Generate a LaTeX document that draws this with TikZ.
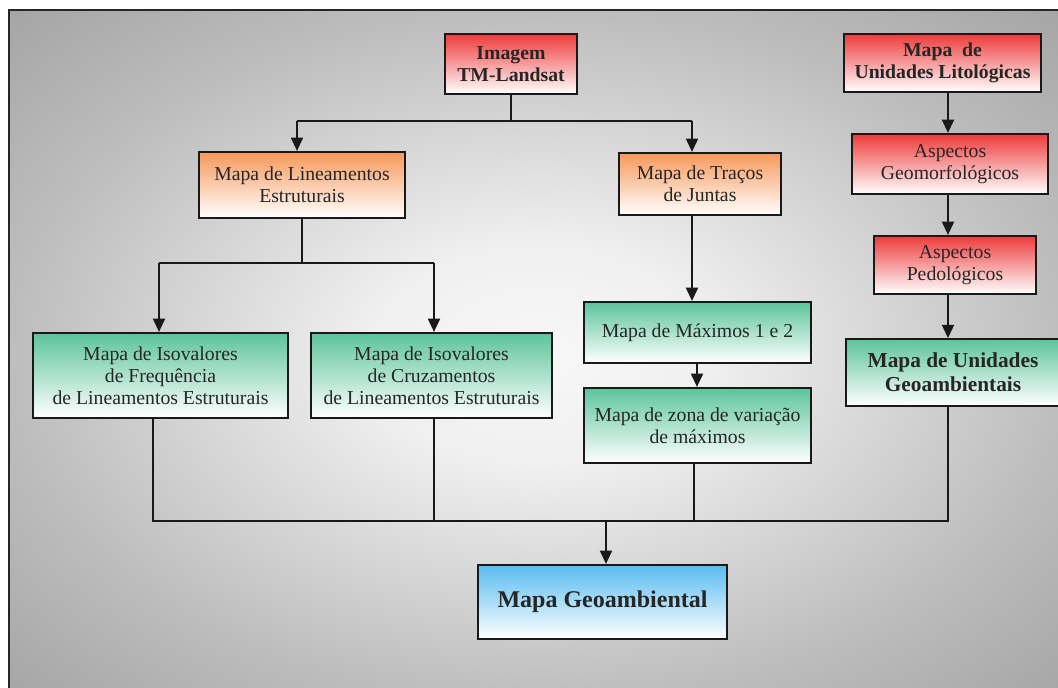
\documentclass[tikz,border=0pt]{standalone}
\usepackage{fontspec}
\setmainfont{Liberation Serif}
\usepackage{tikz}
\usetikzlibrary{arrows.meta}

\definecolor{txt}{HTML}{262626}
\definecolor{redtop}{HTML}{EE3B3B}
\definecolor{orgtop}{HTML}{F7985A}
\definecolor{grntop}{HTML}{5CC49C}
\definecolor{blutop}{HTML}{58BCF0}
\pgfdeclareradialshading{backdrop}{\pgfpoint{0bp}{0bp}}{%
  color(0bp)=(white!94!gray); color(8bp)=(white!88!gray);
  color(25bp)=(gray!52); color(36bp)=(gray!72); color(50bp)=(gray!72)}

\tikzset{
  box/.style={draw=black!90, line width=1.6pt, align=center, text=txt,
    inner sep=2pt, font=\fontsize{14.8}{16.5}\selectfont},
  redbox/.style={box, top color=redtop, bottom color=white},
  orgbox/.style={box, top color=orgtop, bottom color=white},
  grnbox/.style={box, top color=grntop, bottom color=white},
  blubox/.style={box, top color=blutop, bottom color=white},
  conn/.style={line width=1.5pt, black!90},
  arr/.style={conn, -{Triangle[length=10pt,width=9pt]}}
}

\begin{document}
\begin{tikzpicture}[x=0.75pt,y=-0.75pt]
			\useasboundingbox (0,0) rectangle (1058,688);
			% frame
			\shade[shading=backdrop] (9,10) rectangle (1068,700);
			\draw[line width=2pt, black!85] (9,700) -- (9,10) -- (1068,10);
			% left and middle columns
			\node[redbox, font=\bfseries\fontsize{14.8}{16.5}\selectfont,
				minimum width=99pt, minimum height=45pt] (imagem) at (511,64)
				{Imagem\\TM-Landsat};
			\node[orgbox, minimum width=154.5pt, minimum height=49.5pt] (lineam) at (302,185)
				{Mapa de Lineamentos\\Estruturais};
			\node[orgbox, minimum width=121.5pt, minimum height=46.5pt] (tracos) at (700,184)
				{Mapa de Traços\\de Juntas};
			\node[grnbox, minimum width=191.25pt, minimum height=63.75pt] (freq) at (160.5,375.5)
				{Mapa de Isovalores\\de Frequência\\de Lineamentos Estruturais};
			\node[grnbox, minimum width=180.75pt, minimum height=63.75pt] (cruz) at (431.5,375.5)
				{Mapa de Isovalores\\de Cruzamentos\\de Lineamentos Estruturais};
			\node[grnbox, minimum width=170.25pt, minimum height=45.75pt] (maximos) at (697.5,332.5)
				{Mapa de Máximos 1 e 2};
			\node[grnbox, minimum width=170.25pt, minimum height=56.25pt] (zona) at (697.5,425.5)
				{Mapa de zona de variação\\de máximos};
			% right column
			\node[redbox, font=\bfseries\fontsize{14.8}{16.5}\selectfont,
				minimum width=147.75pt, minimum height=43.5pt] (litolog) at (942.5,63)
				{Mapa\ \ de\\Unidades Litológicas};
			\node[redbox, minimum width=147pt, minimum height=45pt] (geomorf) at (950,164)
				{Aspectos\\Geomorfológicos};
			\node[redbox, minimum width=121.5pt, minimum height=43.5pt] (pedolog) at (955,265)
				{Aspectos\\Pedológicos};
			\node[grnbox, font=\bfseries\fontsize{16}{18}\selectfont,
				minimum width=160.5pt, minimum height=50pt] (unidgeo) at (953,372.5)
				{Mapa de Unidades\\Geoambientais};
			% result
			\node[blubox, font=\bfseries\fontsize{18}{20}\selectfont,
				minimum width=186.75pt, minimum height=55.5pt] (mapageo) at (602.5,602)
				{Mapa Geoambiental};

			% connectors
			\coordinate (b1) at (511,121);
			\coordinate (b1l) at (297,121);
			\coordinate (b1r) at (692,121);
			\draw[conn] (imagem.south) -- (b1);
			\draw[conn] (b1l) -- (b1r);
			\draw[arr] (b1l) -- (b1l |- lineam.north);
			\draw[arr] (b1r) -- (b1r |- tracos.north);

			\coordinate (b2l) at (159,263);
			\coordinate (b2r) at (434,263);
			\draw[conn] (lineam.south) -- (lineam.south |- b2l);
			\draw[conn] (b2l) -- (b2r);
			\draw[arr] (b2l) -- (b2l |- freq.north);
			\draw[arr] (b2r) -- (b2r |- cruz.north);

			\coordinate (c1) at (692,215);
			\draw[arr] (c1) -- (c1 |- maximos.north);
			\coordinate (c2) at (697,363);
			\draw[arr] (c2) -- (c2 |- zona.north);

			\coordinate (rc) at (948,0);
			\draw[arr] (litolog.south -| rc) -- (geomorf.north -| rc);
			\draw[arr] (geomorf.south -| rc) -- (pedolog.north -| rc);
			\draw[arr] (pedolog.south -| rc) -- (unidgeo.north -| rc);

			% bottom bus
			\coordinate (b3l) at (153,521);
			\coordinate (b3c) at (434,521);
			\coordinate (b3z) at (694,521);
			\coordinate (b3m) at (606,521);
			\coordinate (b3r) at (948,521);
			\draw[conn] (freq.south -| b3l) -- (b3l) -- (b3r) -- (unidgeo.south -| b3r);
			\draw[conn] (cruz.south -| b3c) -- (b3c);
			\draw[conn] (zona.south -| b3z) -- (b3z);
			\draw[arr] (b3m) -- (b3m |- mapageo.north);
		\end{tikzpicture}
\end{document}
